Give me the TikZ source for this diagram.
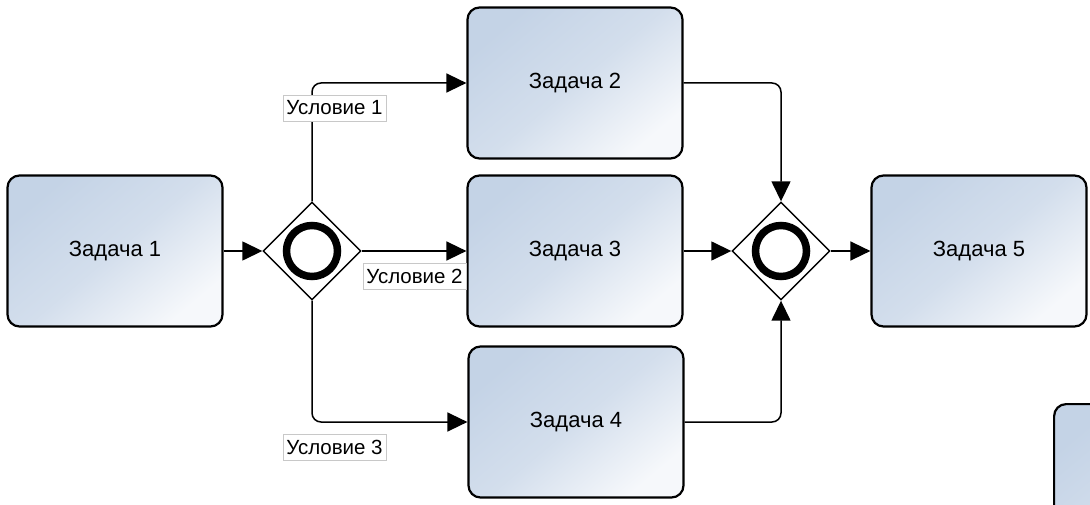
\documentclass[tikz,border=0pt]{standalone}
\usepackage{fontspec}
\setmainfont{Liberation Sans}
\usetikzlibrary{shapes.geometric,arrows.meta}
\definecolor{taskA}{HTML}{C4D3E6}
\definecolor{taskB}{HTML}{F6F8FB}
\definecolor{lblborder}{HTML}{C8C8C8}
\tikzset{
  task/.style={rectangle, rounded corners=12pt, draw=black, line width=2.2pt,
    shading=axis, top color=taskA, bottom color=taskB, middle color=taskA!70!taskB,
    shading angle=40,
    minimum width=215pt, minimum height=151pt, inner sep=0pt,
    font=\fontsize{22}{26}\selectfont},
  gateway/.style={diamond, draw=black, line width=1.4pt, fill=white,
    minimum width=98pt, minimum height=98pt, inner sep=0pt},
  ring/.style={draw=black, line width=7.5pt},
  flow/.style={draw=black, line width=1.5pt, rounded corners=9pt,
    -{Triangle[length=20pt,width=19pt]}},
  cond/.style={rectangle, draw=lblborder, line width=0.8pt, fill=white,
    minimum width=103pt, minimum height=26pt, inner sep=1pt,
    font=\fontsize{20.5}{24}\selectfont}
}
\begin{document}
\begin{tikzpicture}[x=1pt,y=-1pt]
\clip (0,0) rectangle (1090,505);
\fill[white] (0,0) rectangle (1090,505);

% tasks
\node[task] (t1) at (115,251) {Задача 1};
\node[task] (t2) at (575,83) {Задача 2};
\node[task] (t3) at (575,251) {Задача 3};
\node[task] (t4) at (576,422) {Задача 4};
\node[task] (t5) at (979,251) {Задача 5};
% task partly outside the sheet
\node[task, anchor=north west] (t6) at (1053,403) {};

% gateways
\node[gateway] (g1) at (312,251) {};
\node[gateway] (g2) at (781,251) {};
\draw[ring] (g1.center) circle (25.5);
\draw[ring] (g2.center) circle (25.5);

% sequence flows
\draw[flow] (t1.east) -- (g1.west);
\draw[flow] (g1.north) |- (t2.west);
\draw[flow] (g1.east) -- (t3.west);
\draw[flow] (g1.south) |- (t4.west);
\draw[flow] (t2.east) -| (g2.north);
\draw[flow] (t3.east) -- (g2.west);
\draw[flow] (t4.east) -| (g2.south);
\draw[flow] (g2.east) -- (t5.west);

% conditions
\node[cond] (l1) at (334.5,108) {Условие 1};
\node[cond] (l2) at (414.5,276.5) {Условие 2};
\node[cond] (l3) at (334.5,447) {Условие 3};
\end{tikzpicture}
\end{document}
